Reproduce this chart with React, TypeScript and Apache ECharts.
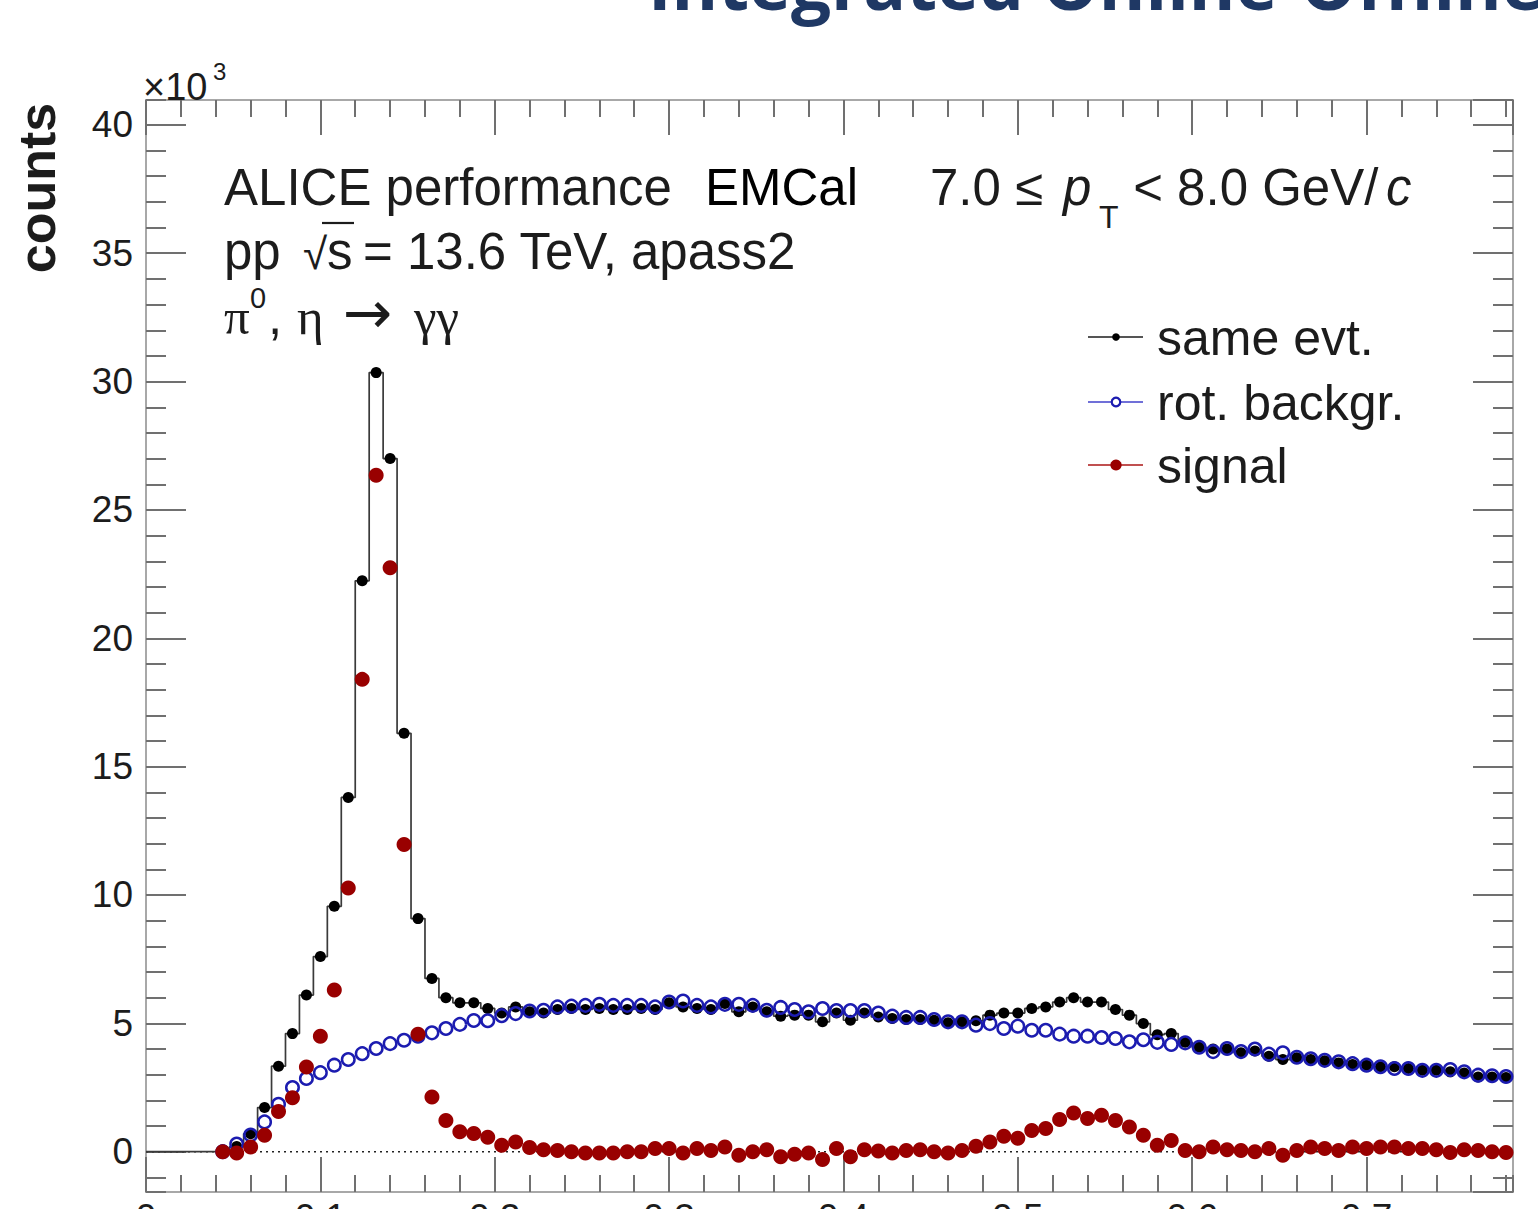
import React, { useEffect, useRef } from "react";
import * as echarts from "echarts";

// Histogram binning (GeV/c^2)
const BIN_WIDTH = 0.008;
const N_BINS = 98;
const FIRST_FILLED_BIN = 5;
const X_MIN = 0;
const X_MAX = 0.784;
const Y_MIN = -1.57;
const Y_MAX = 40.97;

// counts (x10^3) per bin, starting at bin FIRST_FILLED_BIN
const sameEvt = [
  0.0, 0.2, 0.7, 1.72, 3.33, 4.6, 6.1, 7.6, 9.56, 13.8,
  22.24, 30.35, 27.0, 16.3, 9.08, 6.75, 6.0, 5.8, 5.8, 5.58,
  5.4, 5.64, 5.45, 5.4, 5.54, 5.58, 5.54, 5.58, 5.54, 5.54,
  5.58, 5.54, 5.8, 5.64, 5.58, 5.54, 5.77, 5.45, 5.64, 5.45,
  5.28, 5.32, 5.32, 5.06, 5.4, 5.12, 5.4, 5.25, 5.19, 5.15,
  5.15, 5.12, 5.02, 5.06, 5.1, 5.32, 5.4, 5.4, 5.58, 5.64,
  5.83, 6.0, 5.83, 5.83, 5.54, 5.32, 4.99, 4.56, 4.6, 4.26,
  4.07, 4.0, 4.0, 3.85, 3.92, 3.72, 3.59, 3.66, 3.59, 3.54,
  3.46, 3.4, 3.37, 3.31, 3.31, 3.24, 3.17, 3.17, 3.11, 3.07,
  2.91, 2.91, 2.89,
];

const rotBackgr = [
  0.0, 0.3, 0.65, 1.16, 1.85, 2.5, 2.85, 3.08, 3.37, 3.59,
  3.82, 4.02, 4.21, 4.34, 4.5, 4.63, 4.8, 4.96, 5.11, 5.1,
  5.3, 5.38, 5.48, 5.51, 5.64, 5.67, 5.7, 5.74, 5.7, 5.7,
  5.7, 5.64, 5.83, 5.87, 5.7, 5.64, 5.74, 5.74, 5.7, 5.51,
  5.62, 5.54, 5.45, 5.58, 5.5, 5.5, 5.5, 5.4, 5.28, 5.23,
  5.23, 5.15, 5.06, 5.06, 4.93, 4.99, 4.8, 4.89, 4.73, 4.73,
  4.58, 4.5, 4.5, 4.45, 4.41, 4.28, 4.36, 4.26, 4.18, 4.24,
  4.07, 3.9, 4.02, 3.9, 4.0, 3.8, 3.85, 3.68, 3.62, 3.56,
  3.5, 3.43, 3.37, 3.31, 3.24, 3.24, 3.17, 3.17, 3.2, 3.11,
  2.98, 2.96, 2.93,
];

const signal = [
  0.0, -0.05, 0.18, 0.64, 1.57, 2.1, 3.3, 4.5, 6.3, 10.27,
  18.4, 26.35, 22.75, 11.97, 4.58, 2.13, 1.22, 0.78, 0.71, 0.56,
  0.25, 0.38, 0.16, 0.08, 0.05, 0.0, -0.05, -0.05, -0.05, 0.0,
  0.0, 0.12, 0.12, -0.05, 0.12, 0.05, 0.18, -0.14, 0.0, 0.08,
  -0.2, -0.1, -0.05, -0.3, 0.12, -0.2, 0.08, 0.03, -0.05, 0.05,
  0.08, 0.0, -0.05, 0.05, 0.21, 0.38, 0.6, 0.52, 0.83, 0.9,
  1.25, 1.51, 1.29, 1.42, 1.22, 0.96, 0.64, 0.25, 0.44, 0.05,
  0.0, 0.18, 0.08, 0.05, 0.0, 0.12, -0.14, 0.05, 0.18, 0.12,
  0.05, 0.18, 0.12, 0.18, 0.18, 0.12, 0.12, 0.08, -0.03, 0.08,
  0.05, 0.0, -0.03,
];

const legendLabels = ["same evt.", "rot. backgr.", "signal"];

const FONT = '"Liberation Sans", Arial, Helvetica, sans-serif';
const SERIF = '"Liberation Serif", "DejaVu Serif", serif';
const TXT = "#1c1c1c";
const C_BLACK = "#000000";
const C_BLUE = "#1c1cb0";
const C_RED = "#990000";

const center = (k: number) => +(X_MIN + BIN_WIDTH * (k + 0.5)).toFixed(4);
const toPoints = (vals: number[]) => vals.map((v, i) => [center(i + FIRST_FILLED_BIN), v]);

// text helper: y given as baseline
const txt = (
  text: string,
  x: number,
  baseline: number,
  size: number,
  extra: Record<string, any> = {}
) => ({
  type: "text",
  x,
  y: baseline - size * 0.3,
  z: 100,
  style: {
    text,
    fontSize: size,
    fontFamily: FONT,
    fill: TXT,
    align: "left",
    verticalAlign: "middle",
    ...extra,
  },
});

export default function App() {
  const ref = useRef<HTMLDivElement>(null);

  useEffect(() => {
    if (!ref.current) return;
    const chart = echarts.init(ref.current, undefined, {
      renderer: "svg",
      width: 1538,
      height: 1209,
    });

    const histLine: number[][] = [[X_MIN, 0]];
    for (let k = 0; k < N_BINS; k++) {
      const v = k < FIRST_FILLED_BIN ? 0 : sameEvt[k - FIRST_FILLED_BIN];
      histLine.push([center(k), v]);
    }
    histLine.push([X_MAX, sameEvt[sameEvt.length - 1]]);

    const frameLine = { show: true, onZero: false, lineStyle: { color: "#a8a8a8", width: 2 } };
    const tickStyle = { color: "#707070", width: 2 };
    const gridRect = {
      left: 146,
      right: 25,
      top: 100,
      bottom: 17,
      containLabel: false,
      outerBoundsMode: "none",
    };

    const xBase = (gridIndex: number, position: string, interval: number, len: number, labels: boolean) => ({
      type: "value",
      gridIndex,
      position,
      min: X_MIN,
      max: X_MAX,
      interval,
      axisLine: frameLine,
      axisTick: { show: true, inside: true, length: len, lineStyle: tickStyle },
      splitLine: { show: false },
      axisLabel: labels
        ? {
            show: true,
            interval: 0,
            margin: 7,
            fontSize: 37,
            fontFamily: FONT,
            color: TXT,
            showMaxLabel: false,
          }
        : { show: false },
    });

    const yBase = (gridIndex: number, position: string, step: number, len: number, labels: boolean) => ({
      type: "value",
      gridIndex,
      position,
      min: Y_MIN,
      max: Y_MAX,
      minInterval: step,
      maxInterval: step,
      axisLine: frameLine,
      axisTick: { show: true, inside: true, length: len, lineStyle: tickStyle },
      splitLine: { show: false },
      axisLabel: labels
        ? {
            show: true,
            interval: 0,
            margin: 13,
            fontSize: 37,
            fontFamily: FONT,
            color: TXT,
            showMinLabel: false,
            showMaxLabel: false,
          }
        : { show: false },
    });

    const legendX1 = 1088;
    const legendX2 = 1143;
    const legendMX = 1116;
    const rowY = [337, 402, 465];

    const option: any = {
      animation: false,
      backgroundColor: "#ffffff",
      grid: [{ ...gridRect }, { ...gridRect }],
      xAxis: [
        xBase(0, "bottom", 0.02, 17, false),
        xBase(0, "top", 0.02, 17, false),
        xBase(1, "bottom", 0.1, 35, true),
        xBase(1, "top", 0.1, 35, false),
      ],
      yAxis: [
        yBase(0, "left", 1, 20, false),
        yBase(0, "right", 1, 20, false),
        yBase(1, "left", 5, 40, true),
        yBase(1, "right", 5, 40, false),
      ],
      series: [
        {
          name: "zero",
          type: "line",
          xAxisIndex: 2,
          yAxisIndex: 2,
          data: [[X_MIN, 0], [X_MAX, 0]],
          showSymbol: false,
          silent: true,
          lineStyle: { color: "#222", width: 1.6, type: [2, 4] },
          z: 1,
        },
        {
          name: "same evt. hist",
          type: "line",
          xAxisIndex: 2,
          yAxisIndex: 2,
          step: "middle",
          data: histLine,
          showSymbol: false,
          silent: true,
          lineStyle: { color: "#3a3a3a", width: 1.7 },
          z: 2,
        },
        {
          name: legendLabels[0],
          type: "scatter",
          xAxisIndex: 2,
          yAxisIndex: 2,
          data: toPoints(sameEvt),
          symbol: "circle",
          symbolSize: 11,
          itemStyle: { color: C_BLACK, opacity: 1 },
          z: 3,
        },
        {
          name: legendLabels[1],
          type: "scatter",
          xAxisIndex: 2,
          yAxisIndex: 2,
          data: toPoints(rotBackgr),
          symbol: "circle",
          symbolSize: 12.5,
          itemStyle: { color: "rgba(0,0,0,0)", borderColor: C_BLUE, borderWidth: 2.5, opacity: 1 },
          z: 4,
        },
        {
          name: legendLabels[2],
          type: "scatter",
          xAxisIndex: 2,
          yAxisIndex: 2,
          data: toPoints(signal),
          symbol: "circle",
          symbolSize: 15,
          itemStyle: { color: C_RED, opacity: 1 },
          z: 5,
        },
      ],
      graphic: [
        // cropped slide title
        {
          type: "text",
          x: 648,
          y: -17.5,
          style: {
            text: "Integrated Online-Offline",
            fontSize: 71,
            fontWeight: "bold",
            fontFamily: '"Open Sans", "Liberation Sans", sans-serif',
            fill: "#1f3864",
            align: "left",
            verticalAlign: "middle",
          },
        },
        // y axis title
        {
          type: "text",
          x: 37,
          y: 188,
          rotation: Math.PI / 2,
          style: {
            text: "counts",
            fontSize: 52,
            fontWeight: "bold",
            fontFamily: FONT,
            fill: TXT,
            align: "center",
            verticalAlign: "middle",
          },
        },
        // x10^3
        txt("×10", 143, 98, 38),
        txt("3", 213, 79, 24),
        // ALICE text
        txt("ALICE performance", 224, 203, 51),
        txt("EMCal", 705, 203, 51, { fill: "#000" }),
        txt("7.0 ≤ ", 930, 203, 51),
        txt("p", 1063, 203, 51, { fontStyle: "italic" }),
        txt("T", 1099, 227, 32),
        txt(" < 8.0 GeV/", 1119, 203, 51),
        txt("c", 1386, 203, 51, { fontStyle: "italic" }),
        // pp sqrt(s)
        txt("pp", 224, 267, 51),
        txt("√", 303, 267, 44),
        {
          type: "line",
          z: 100,
          shape: { x1: 322, y1: 223, x2: 354, y2: 223 },
          style: { stroke: TXT, lineWidth: 2.2 },
        },
        txt("s", 327, 267, 51),
        txt("= 13.6 TeV, apass2", 363, 267, 51),
        // pi0, eta
        txt("π", 224, 332, 51, { fontFamily: SERIF }),
        txt("0", 250, 307, 29),
        txt(",", 268, 332, 51),
        txt("η", 297, 332, 51, { fontFamily: SERIF }),
        txt("→", 343, 330, 59, { fontFamily: '"DejaVu Sans", sans-serif' }),
        txt("γγ", 414, 332, 51, { fontFamily: SERIF }),
        // legend
        {
          type: "line",
          z: 100,
          shape: { x1: legendX1, y1: rowY[0], x2: legendX2, y2: rowY[0] },
          style: { stroke: "#555", lineWidth: 2 },
        },
        {
          type: "circle",
          z: 101,
          shape: { cx: legendMX, cy: rowY[0], r: 3.8 },
          style: { fill: C_BLACK },
        },
        {
          type: "line",
          z: 100,
          shape: { x1: legendX1, y1: rowY[1], x2: legendX2, y2: rowY[1] },
          style: { stroke: "#7070d8", lineWidth: 2 },
        },
        {
          type: "circle",
          z: 101,
          shape: { cx: legendMX, cy: rowY[1], r: 4.3 },
          style: { fill: "#fff", stroke: C_BLUE, lineWidth: 2.2 },
        },
        {
          type: "line",
          z: 100,
          shape: { x1: legendX1, y1: rowY[2], x2: legendX2, y2: rowY[2] },
          style: { stroke: "#c05050", lineWidth: 2 },
        },
        {
          type: "circle",
          z: 101,
          shape: { cx: legendMX, cy: rowY[2], r: 5.6 },
          style: { fill: C_RED },
        },
        txt(legendLabels[0], 1157, rowY[0] + 16, 50),
        txt(legendLabels[1], 1157, rowY[1] + 16, 50),
        txt(legendLabels[2], 1157, rowY[2] + 16, 50),
      ],
    };

    chart.setOption(option);
    return () => chart.dispose();
  }, []);

  return (
    <div
      ref={ref}
      style={{
        position: "fixed",
        left: 0,
        top: 0,
        width: 1538,
        height: 1209,
        background: "#fff",
      }}
    />
  );
}
